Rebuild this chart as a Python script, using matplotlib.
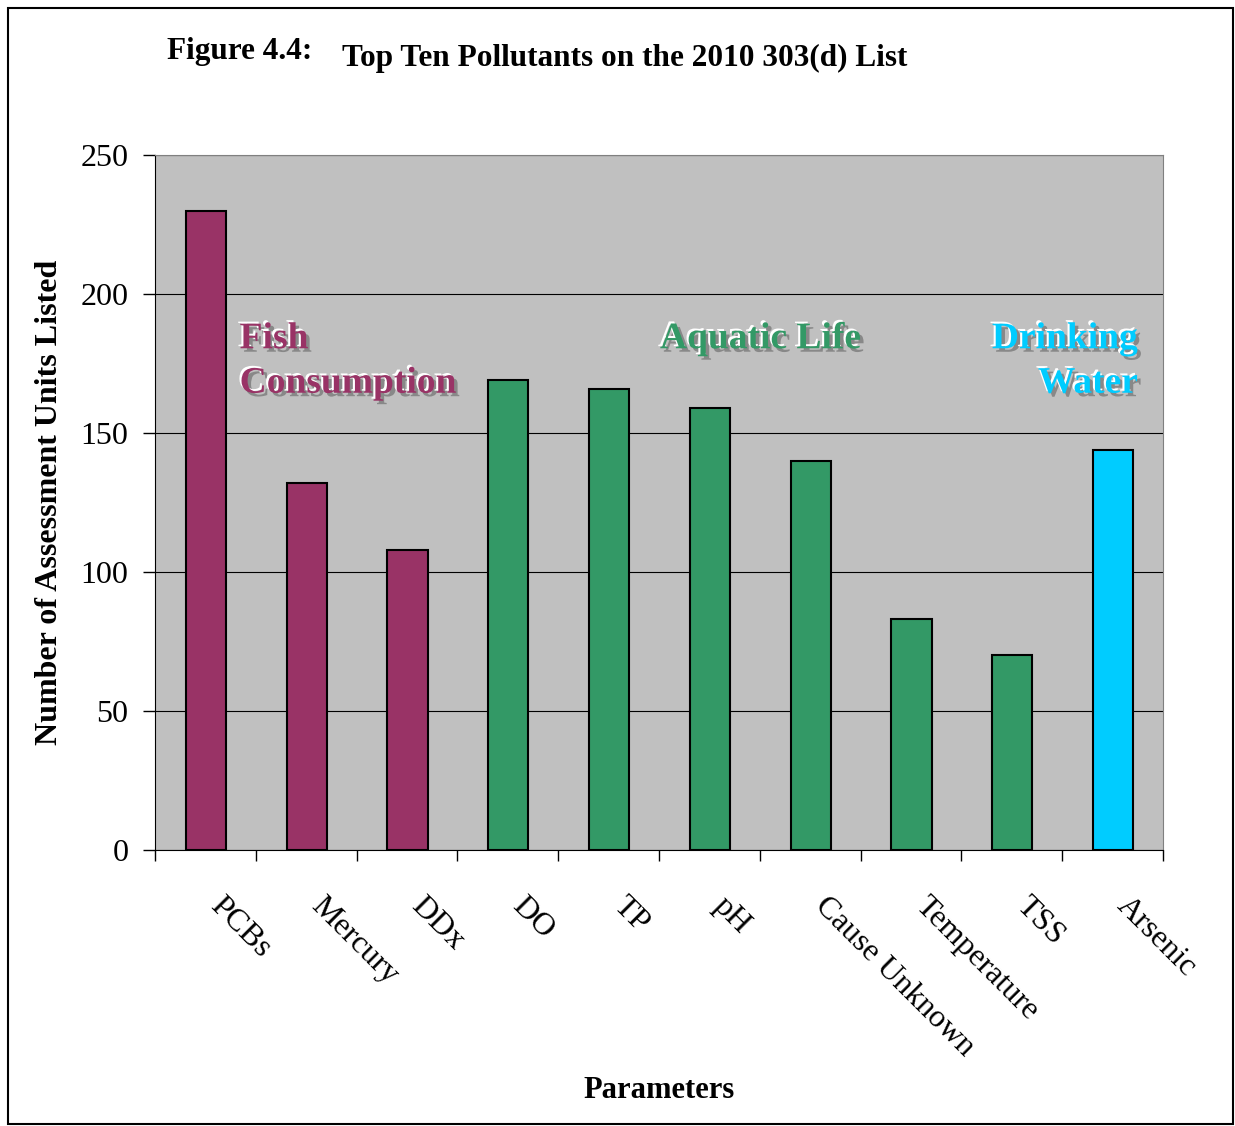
import numpy as np
import matplotlib.pyplot as plt
import matplotlib.patheffects as pe
import matplotlib.transforms as mtrans
from matplotlib.patches import Rectangle

plt.rcParams['font.family'] = ['Liberation Serif', 'DejaVu Serif']

# data
pollutants = ["PCBs", "Mercury", "DDx", "DO", "TP", "pH", "Cause Unknown",
              "Temperature", "TSS", "Arsenic"]
units_listed = [230, 132, 108, 169, 166, 159, 140, 83, 70, 144]
use_group = ["fish", "fish", "fish", "aquatic", "aquatic", "aquatic", "aquatic",
             "aquatic", "aquatic", "drinking"]
group_colors = {"fish": "#993366", "aquatic": "#339966", "drinking": "#00CCFF"}

fig = plt.figure(figsize=(12.35, 11.26), dpi=100)
ax = fig.add_axes([0.1255, 0.2451, 0.9417 - 0.1255, 0.8623 - 0.2451])
ax.set_facecolor("#C0C0C0")

x = np.arange(len(pollutants))
ax.bar(x + 0.005, units_listed, width=0.4,
       color=[group_colors[g] for g in use_group],
       edgecolor="black", linewidth=1.5, zorder=3)

ax.set_xlim(-0.5, len(pollutants) - 0.5)
ax.set_ylim(0, 250)
ax.set_yticks([0, 50, 100, 150, 200, 250])
ax.yaxis.grid(True, color="black", linewidth=0.8, zorder=0)
ax.set_axisbelow(True)
ax.tick_params(axis="y", labelsize=23, length=9, width=1, direction="out", pad=10)

# category ticks sit on the boundaries, labels at the centres
ax.set_xticks(np.arange(-0.5, len(pollutants)), minor=False)
ax.set_xticklabels([])
ax.set_xticks(x, minor=True)
ax.set_xticklabels(pollutants, minor=True, rotation=-45, ha="left",
                   rotation_mode="anchor", fontsize=23)
ax.tick_params(axis="x", which="major", length=8, width=1, direction="out")
ax.tick_params(axis="x", which="minor", length=0, pad=30)
offset = mtrans.ScaledTranslation(19 / 100, 0, fig.dpi_scale_trans)
for lab in ax.get_xticklabels(minor=True):
    lab.set_transform(lab.get_transform() + offset)

for side in ["top", "right"]:
    ax.spines[side].set_color("#808080")
for side in ["left", "bottom"]:
    ax.spines[side].set_color("black")

ax.set_ylabel("Number of Assessment Units Listed", fontsize=23, fontweight="bold", labelpad=12)
ax.set_xlabel("Parameters", fontsize=22, fontweight="bold")
ax.xaxis.set_label_coords(0.5, -0.325)

fig.text(0.135, 0.948, "Figure 4.4:", fontsize=22.5, fontweight="bold")
fig.text(0.277, 0.941, "Top Ten Pollutants on the 2010 303(d) List", fontsize=22.5, fontweight="bold")

fx = [pe.SimplePatchShadow(offset=(2.5, -2.5), shadow_rgbFace="#7a7a7a", alpha=0.8),
      pe.SimplePatchShadow(offset=(-1.5, 1.5), shadow_rgbFace="white", alpha=1.0),
      pe.Normal()]
lab_kw = dict(fontsize=27, fontweight="bold", path_effects=fx, zorder=5)
ax.text(0.34, 180.5, "Fish", color=group_colors["fish"], **lab_kw)
ax.text(0.34, 164.5, "Consumption", color=group_colors["fish"], **lab_kw)
ax.text(4.51, 180.5, "Aquatic Life", color=group_colors["aquatic"], **lab_kw)
ax.text(9.25, 180.5, "Drinking", color=group_colors["drinking"], ha="right", **lab_kw)
ax.text(9.25, 164.5, "Water", color=group_colors["drinking"], ha="right", **lab_kw)

fig.patches.append(Rectangle((8 / 1235, 2 / 1126), 1225 / 1235, 1116 / 1126,
                             transform=fig.transFigure, fill=False,
                             edgecolor="black", linewidth=1.5))

fig.savefig("out.png", dpi=100)
